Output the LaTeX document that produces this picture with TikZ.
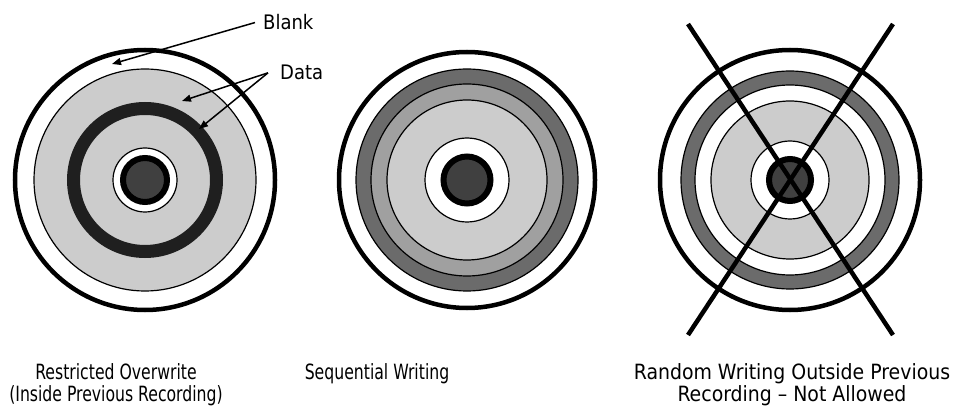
\documentclass[tikz,border=0pt]{standalone}
\usepackage{fontspec}
\setmainfont{DejaVu Sans Condensed}
\newfontfamily\narrowfont[FakeStretch=0.83]{DejaVu Sans Condensed}
\usepackage{xcolor}
\usepackage{tikz}
\usetikzlibrary{arrows.meta}

\definecolor{lightdata}{HTML}{CCCCCC}
\definecolor{middata}{HTML}{A0A0A0}
\definecolor{darkdata}{HTML}{6B6B6B}
\definecolor{hubgray}{HTML}{404040}

\begin{document}
\begin{tikzpicture}[x=1pt,y=-1pt,
    rim/.style={line width=4.5pt,fill=white},
    track/.style={line width=1.2pt},
    hub/.style={line width=6pt,fill=hubgray},
    cross/.style={line width=4.5pt},
    pointer/.style={line width=1.5pt,-{Triangle[length=9pt,width=7pt]}},
    callout/.style={font=\fontsize{20}{22}\selectfont,inner sep=0pt},
    label/.style={font=\fontsize{21}{22}\selectfont,align=center,inner sep=0pt},
    narrowlabel/.style={label,font=\narrowfont\fontsize{21}{22}\selectfont}]
    \useasboundingbox (0,0) rectangle (953,406);

    \coordinate (left) at (145,180);
    \coordinate (mid) at (467,180);
    \coordinate (right) at (790,180);

    % restricted overwrite
    \draw[rim] (left) circle[radius=130];
    \draw[track,fill=lightdata] (left) circle[radius=111];
    \draw[line width=13pt,color=black!88] (left) circle[radius=71.5];
    \draw[track,fill=white] (left) circle[radius=32];
    \draw[hub] (left) circle[radius=22];

    % sequential writing
    \draw[rim] (mid) circle[radius=128];
    \draw[track,fill=darkdata] (mid) circle[radius=111];
    \draw[track,fill=middata] (mid) circle[radius=96];
    \draw[track,fill=lightdata] (mid) circle[radius=80];
    \draw[track,fill=white] (mid) circle[radius=42];
    \draw[hub] (mid) circle[radius=23.5];

    % random writing
    \draw[rim] (right) circle[radius=130];
    \draw[track,fill=darkdata] (right) circle[radius=109];
    \draw[track,fill=white] (right) circle[radius=95];
    \draw[track,fill=lightdata] (right) circle[radius=79];
    \draw[track,fill=white] (right) circle[radius=39];
    \draw[hub] (right) circle[radius=21];
    \draw[cross] (688,24) -- (893,335);
    \draw[cross] (893,24) -- (688,335);

    % callouts
    \node[callout,anchor=base west,inner xsep=8pt] (blank) at (255,30) {Blank};
    \node[callout,anchor=base west,inner xsep=12pt] (data) at (268,80) {Data};
    \coordinate (blanktip) at (112,64);
    \coordinate (datatip1) at (182,101);
    \coordinate (datatip2) at (199,129);
    \draw[pointer] (blank.west) -- (blanktip);
    \draw[pointer] (data.west) -- (datatip1);
    \draw[pointer] (data.west) -- (datatip2);

    % captions (base = last line)
    \node[narrowlabel,anchor=base] (leftlab) at (116,401) {Restricted Overwrite\\(Inside Previous Recording)};
    \node[narrowlabel,anchor=base] (midlab) at (377,379) {Sequential Writing};
    \node[label,anchor=base] (rightlab) at (792,401) {Random Writing Outside Previous\\Recording -- Not Allowed};
\end{tikzpicture}
\end{document}
